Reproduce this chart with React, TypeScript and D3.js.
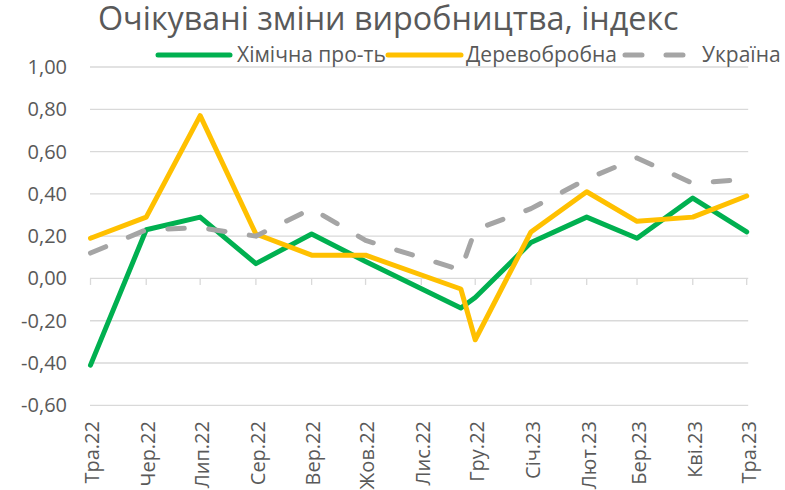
import React from "react";
import * as d3 from "d3";

const title = "Очікувані зміни виробництва, індекс";
const tickLabels = ["Тра.22", "Чер.22", "Лип.22", "Сер.22", "Вер.22", "Жов.22", "Лис.22", "Гру.22", "Січ.23", "Лют.23", "Бер.23", "Кві.23", "Тра.23"];
const tickDates = ["2022-05-01", "2022-06-01", "2022-07-01", "2022-08-01", "2022-09-01", "2022-10-01", "2022-11-01", "2022-12-01", "2023-01-01", "2023-02-01", "2023-03-01", "2023-04-01", "2023-05-01"];
const pointDates = ["2022-05-01", "2022-06-01", "2022-07-01", "2022-08-01", "2022-09-01", "2022-10-01", "2022-11-23", "2022-12-01", "2023-01-01", "2023-02-01", "2023-03-01", "2023-04-01", "2023-05-01"];
const chemical = [-0.41, 0.23, 0.29, 0.07, 0.21, 0.08, -0.14, -0.09, 0.17, 0.29, 0.19, 0.38, 0.22];
const wood = [0.19, 0.29, 0.77, 0.21, 0.11, 0.11, -0.05, -0.29, 0.22, 0.41, 0.27, 0.29, 0.39];
const ukraine = [0.12, 0.23, 0.24, 0.2, 0.33, 0.18, 0.04, 0.23, 0.33, 0.47, 0.57, 0.45, 0.47];
const yTicks = [-0.6, -0.4, -0.2, 0, 0.2, 0.4, 0.6, 0.8, 1.0];
const seriesNames = ["Хімічна про-ть", "Деревобробна", "Україна"];

const parse = d3.utcParse("%Y-%m-%d");
const FONT = "'Open Sans', sans-serif";
const TEXT = "#595959";
const GRID = "#d9d9d9";

export default function App() {
  const W = 785, H = 490;
  const x = d3.scaleUtc()
    .domain([parse(tickDates[0])!, parse(tickDates[tickDates.length - 1])!])
    .range([90.5, 746.7]);
  const y = d3.scaleLinear().domain([-0.6, 1.0]).range([405.3, 67]);
  const fmt = (v: number) => d3.format(".2f")(v).replace(".", ",").replace("−", "-");

  const series = [
    { name: seriesNames[0], values: chemical, color: "#00B050", dash: undefined as string | undefined },
    { name: seriesNames[1], values: wood, color: "#FFC000", dash: undefined },
    { name: seriesNames[2], values: ukraine, color: "#A5A5A5", dash: "16.5 24.5" },
  ];
  const line = d3.line<[Date, number]>().x(d => x(d[0])).y(d => y(d[1]));
  const x0 = x.range()[0], x1 = x.range()[1];

  const legend = [
    { sx: 158, ex: 230, tx: 237 },
    { sx: 388, ex: 461, tx: 466 },
    { sx: 625, ex: 688, tx: 702 },
  ];

  return (
    <svg width={W} height={H} style={{ position: "absolute", left: 0, top: 0, background: "#fff" }} fontFamily={FONT}>
      <text x={98} y={30} fontSize={32.3} fill={TEXT}>{title}</text>
      {/* gridlines */}
      {yTicks.map(v => (
        <line key={"g" + v} x1={x0 - 0.5} x2={x1 + 1.5} y1={y(v)} y2={y(v)} stroke={GRID} strokeWidth={1.3} />
      ))}
      {/* y labels */}
      {yTicks.map(v => (
        <text key={"yl" + v} x={67} y={y(v)} dy="0.35em" textAnchor="end" fontSize={20} fill={TEXT}>{fmt(v)}</text>
      ))}
      {/* x ticks */}
      {tickDates.map(d => (
        <line key={"t" + d} x1={x(parse(d)!)} x2={x(parse(d)!)} y1={y(0)} y2={y(0) + 6.5} stroke={GRID} strokeWidth={1.3} />
      ))}
      {/* x labels */}
      {tickDates.map((d, i) => {
        const px = x(parse(d)!);
        return (
          <text key={"xl" + d} transform={`translate(${px},421) rotate(-90)`} dy="0.44em" textAnchor="end" fontSize={20} fill={TEXT}>{tickLabels[i]}</text>
        );
      })}
      {/* lines */}
      {series.map(s => (
        <path key={s.name} d={line(pointDates.map((d, i) => [parse(d)!, s.values[i]]))!} fill="none" stroke={s.color}
          strokeWidth={5} strokeLinejoin="round" strokeLinecap="round" strokeDasharray={s.dash} />
      ))}
      {/* legend */}
      {series.map((s, i) => (
        <g key={"lg" + s.name}>
          <line x1={legend[i].sx} x2={legend[i].ex} y1={55} y2={55} stroke={s.color} strokeWidth={5}
            strokeLinecap="round" strokeDasharray={s.dash ? "17 24" : undefined} />
          <text x={legend[i].tx} y={55} dy="0.35em" fontSize={21} fill={TEXT}>{s.name}</text>
        </g>
      ))}
    </svg>
  );
}
